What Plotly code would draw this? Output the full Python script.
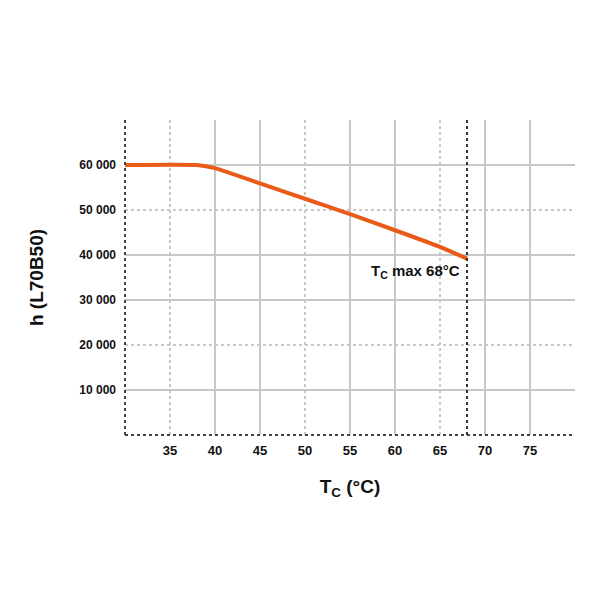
import plotly.graph_objects as go

# lifetime curve
tc = [30, 38, 40, 45, 50, 55, 60, 65, 68]
hours = [60000, 60000, 59300, 55900, 52500, 49100, 45500, 41800, 39200]

x_ticks = [35, 40, 45, 50, 55, 60, 65, 70, 75]
y_ticks = [10000, 20000, 30000, 40000, 50000, 60000]
y_labels = ["10 000", "20 000", "30 000", "40 000", "50 000", "60 000"]

x_solid = [40, 45, 55, 60, 70, 75]
x_dotted = [35, 50, 65]
y_solid = [10000, 30000, 40000, 60000]
y_dotted = [20000, 50000]

tc_max = 68

fig = go.Figure()
fig.add_trace(go.Scatter(x=tc, y=hours, mode="lines",
                         line=dict(color="#EA5B1A", width=4, shape="spline", smoothing=0.4),
                         showlegend=False, hoverinfo="skip"))

shapes = []
for v in x_solid:
    shapes.append(dict(type="line", xref="x", yref="paper", x0=v, x1=v, y0=0, y1=1,
                       line=dict(color="#c8c8c8", width=2), layer="below"))
for v in x_dotted:
    shapes.append(dict(type="line", xref="x", yref="paper", x0=v, x1=v, y0=0, y1=1,
                       line=dict(color="#c8c8c8", width=2, dash="dot"), layer="below"))
for v in y_solid:
    shapes.append(dict(type="line", xref="paper", yref="y", x0=0, x1=1, y0=v, y1=v,
                       line=dict(color="#c8c8c8", width=2), layer="below"))
for v in y_dotted:
    shapes.append(dict(type="line", xref="paper", yref="y", x0=0, x1=1, y0=v, y1=v,
                       line=dict(color="#c8c8c8", width=2, dash="dot"), layer="below"))
# axes drawn dotted
shapes.append(dict(type="line", xref="paper", yref="paper", x0=0, x1=0, y0=0, y1=1,
                   line=dict(color="#444444", width=2, dash="dot")))
shapes.append(dict(type="line", xref="paper", yref="paper", x0=0, x1=1, y0=0, y1=0,
                   line=dict(color="#444444", width=2, dash="dot")))
# Tc max marker
shapes.append(dict(type="line", xref="x", yref="paper", x0=tc_max, x1=tc_max, y0=0, y1=1,
                   line=dict(color="#333333", width=2, dash="dot")))

fig.update_layout(
    width=608, height=608,
    margin=dict(l=117, r=41, t=112, b=181),
    paper_bgcolor="white", plot_bgcolor="white",
    font=dict(family="Liberation Sans", size=12, color="#111111"),
    shapes=shapes,
    xaxis=dict(range=[30, 80], tickvals=x_ticks, showgrid=False, zeroline=False,
               showline=False, ticks="", ticklabelstandoff=6,
               ticktext=[f"<b>{v}</b>" for v in x_ticks],
               tickfont=dict(size=13),
               title=dict(text="<b>T<sub>C</sub> (°C)</b>", font=dict(size=19), standoff=22)),
    yaxis=dict(range=[0, 70000], tickvals=y_ticks,
               ticktext=[f"<b>{t}</b>" for t in y_labels], showgrid=False,
               zeroline=False, showline=False, ticks="", tickfont=dict(size=12),
               ticklabelstandoff=8,
               title=dict(text="<b>h (L70B50)</b>", font=dict(size=19), standoff=30)),
    annotations=[dict(x=tc_max, y=36400, xref="x", yref="y", xanchor="right",
                      text="<b>T<sub>C</sub> max 68°C</b>", showarrow=False, xshift=-5,
                      font=dict(size=15, color="#111111"))],
)

fig.write_html("out.html")
